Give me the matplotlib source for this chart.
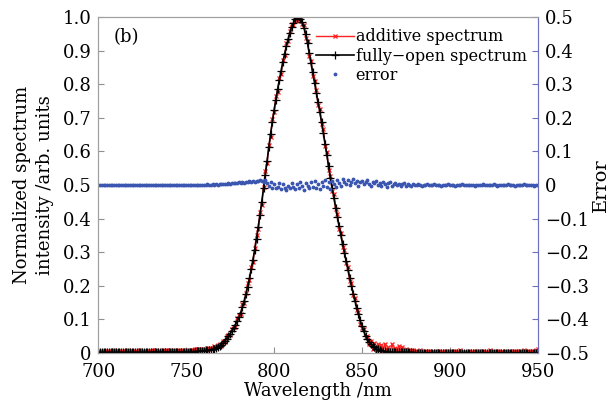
import numpy as np
import matplotlib
matplotlib.use("Agg")
import matplotlib.pyplot as plt
from matplotlib.ticker import FuncFormatter

plt.rcParams['font.family'] = ['DejaVu Serif']

# ---------------- data ----------------
wl = np.arange(700, 951, 1)          # sampling, nm

fully_open = np.array(
    [0.002] * 30 + [0.003] * 20 +
    [0.003, 0.003, 0.004, 0.004, 0.004, 0.005, 0.005, 0.006, 0.006, 0.007,
     0.007, 0.008, 0.008, 0.009, 0.010, 0.011, 0.013, 0.015, 0.018, 0.021,
     0.025, 0.030, 0.036, 0.043, 0.050, 0.058, 0.066, 0.075, 0.084, 0.095,
     0.106, 0.120, 0.136, 0.155, 0.175, 0.198, 0.222, 0.249, 0.278, 0.308,
     0.340, 0.375, 0.412, 0.450, 0.490, 0.531, 0.572, 0.612, 0.652, 0.688,
     0.722, 0.754, 0.785, 0.813, 0.840, 0.866, 0.890, 0.913, 0.935, 0.953,
     0.970, 0.983, 0.993, 0.998, 1.000, 0.995, 0.985, 0.968, 0.948, 0.922,
     0.893, 0.864, 0.835, 0.805, 0.775, 0.746, 0.718, 0.687, 0.655, 0.623,
     0.590, 0.556, 0.522, 0.491, 0.462, 0.433, 0.405, 0.377, 0.350, 0.324,
     0.298, 0.273, 0.248, 0.224, 0.200, 0.177, 0.155, 0.134, 0.115, 0.097,
     0.080, 0.065, 0.052, 0.042, 0.033, 0.027, 0.021, 0.017, 0.013, 0.011,
     0.009, 0.007, 0.006, 0.005, 0.004, 0.003, 0.003, 0.002, 0.002, 0.002] +
    [0.002] * 10 + [0.001] * 71)

# deviation of the additive spectrum from the fully-open one (x 0.001)
additive_dev_milli = [
    2, 4, 1, 3, 5, 2, 4, 1, 3, 6,
    3, 5, 2, 4, 1, 5, 3, 6, 2, 4,
    5, 2, 4, 3, 6, 1, 4, 5, 2, 3,
    4, 6, 2, 5, 3, 1, 4, 6, 3, 5,
    2, 5, 3, 6, 4, 2, 5, 3, 7, 4,
    3, 6, 2, 5, 4, 7, 3, 5, 6, 4,
    5, 2, 7, 3, 6, 4, 8, 2, 6, 5,
    -3, 6, -2, 8, 4, -4, 7, 3, -5, 9,
    6, -4, 9, -6, 3, 10, -5, 7, -8, 4,
    10, -6, 8, -9, 5, 11, -7, 6, -10, 9,
    -5, 10, -8, 6, -11, 7, -4, 9, -7, 5,
    8, -6, 4, -9, 2, 6, -5, 8, -10, 7,
    -9, 6, -10, 5, 8, -7, 9, -6, 11, -8,
    7, -10, 6, -8, 10, -5, 8, -9, 6, -7,
    9, -6, 7, -10, 8, -5, 10, -7, 6, -9,
    -4, 6, -5, 8, -6, 10, -8, 12, -9, 15,
    3, 18, -2, 22, 5, 14, -1, 25, 8, 12,
    4, 20, 2, 16, -1, 10, 3, 8, 1, 6,
    2, 5, 1, 7, 3, 2, 6, 1, 4, 2,
    3, 1, 5, 2, 4, 1, 3, 6, 2, 1,
    4, 2, 1, 5, 3, 2, 7, 1, 3, 2,
    1, 4, 2, 3, 6, 1, 2, 4, 1, 5,
    2, 3, 1, 8, 2, 4, 1, 3, 5, 2,
    3, 1, 6, 2, 4, 2, 1, 5, 3, 2,
    4, 2, 7, 1, 3, 5, 2, 6, 3, 9,
    11]
additive = fully_open + np.array(additive_dev_milli) * 0.001

error_milli = [
    0, 1, -1, 0, 1, 0, -1, 1, 0, -1,
    1, 0, -1, 0, 1, -1, 0, 1, 0, -1,
    0, 1, 0, -1, 1, 0, -1, 0, 1, 0,
    -1, 0, 1, 0, -1, 1, 0, -1, 0, 1,
    0, -1, 1, 0, 1, -1, 0, 1, 0, -1,
    1, 0, -1, 1, 0, 1, 0, -1, 1, 0,
    1, 0, 2, 1, 0, 2, 1, 3, 1, 2,
    3, 2, 4, 3, 5, 4, 6, 5, 7, 6,
    8, 6, 9, 7, 10, 8, 11, 9, 12, 10,
    13, 11, 15, 12, 10, 14, 6, -3, 8, -8,
    4, -10, -5, 6, -12, 2, -8, -14, -4, -10,
    5, -6, -12, 3, -9, 8, -4, -15, 6, -2,
    -10, 9, -5, 12, -8, 4, -13, 10, -3, 15,
    -6, 8, -11, 13, 2, -5, 16, 6, -2, 18,
    10, 3, 14, -1, 8, 17, 5, 12, -3, 9,
    13, 2, 8, 15, 4, -2, 10, 6, 12, 1,
    7, -3, 9, 4, -6, 5, 10, -2, 3, 6,
    -1, 4, -4, 2, 5, -2, 3, 0, -3, 2,
    1, -1, 2, 0, -2, 1, 0, 2, -1, 1,
    0, 2, -1, 1, 0, -2, 1, 0, -1, 2,
    -1, 0, 1, -2, 0, 1, -1, 2, 0, -1,
    1, 0, -1, 1, -2, 0, 1, -1, 0, 2,
    0, -1, 1, 0, -1, 2, 0, -2, 1, 0,
    -1, 1, 0, 2, -1, 0, 1, -2, 0, 1,
    0, -1, 2, 0, 1, -1, 0, 1, -2, 0,
    1]
error = np.array(error_milli) * 0.001

# ---------------- plot ----------------
fig = plt.figure(figsize=(6.14, 4.04), dpi=100)
ax = fig.add_axes([0.16, 0.126, 0.716, 0.832])
ax2 = ax.twinx()

l1, = ax.plot(wl, additive, color='#ff2020', lw=1.0, marker='x', ms=3.5, mew=0.9,
              zorder=2)
l2, = ax.plot(wl, fully_open, color='black', lw=1.2, marker='+', ms=6,
              mew=0.9, zorder=3)
l3, = ax2.plot(wl, error, ls='none', marker='.', ms=3.5, color='#3a56b0')

ax.set_xlim(700, 950)
ax.set_ylim(0, 1.0)
ax2.set_ylim(-0.5, 0.5)
ax.set_xticks([700, 750, 800, 850, 900, 950])
ax.set_yticks(np.arange(0, 1.01, 0.1))
ax2.set_yticks(np.arange(-0.5, 0.51, 0.1))


def fmt(v, pos):
    if abs(v) < 1e-9:
        return '0'
    return ('%.1f' % v).replace('-', '\u2212')


ax.yaxis.set_major_formatter(FuncFormatter(fmt))
ax2.yaxis.set_major_formatter(FuncFormatter(fmt))

for a in (ax, ax2):
    a.tick_params(direction='in', labelsize=13, length=4, width=0.8)
ax.tick_params(colors='#909090', labelcolor='black')
ax.tick_params(axis='x', pad=7)
ax.tick_params(axis='y', pad=5)
ax2.tick_params(colors='#7070c0', labelcolor='black', pad=5)

for s in ('left', 'bottom', 'top'):
    ax.spines[s].set_color('#a0a0a0')
    ax2.spines[s].set_color('#a0a0a0')
ax2.spines['right'].set_color('#7070c0')
ax.spines['right'].set_color('#7070c0')

ax.set_xlabel('Wavelength /nm', fontsize=13, labelpad=1)
ax.set_ylabel('Normalized spectrum\nintensity /arb. units', fontsize=13,
              linespacing=1.35, labelpad=6)
ax2.set_ylabel('Error', fontsize=14, labelpad=2)

ax.text(709, 0.925, '(b)', fontsize=13)

ax2.legend([l1, l2, l3], ['additive spectrum', 'fully\u2212open spectrum', 'error'],
           loc='upper right', frameon=False, fontsize=11.5, numpoints=1,
           handlelength=2.4, handletextpad=0.1, labelspacing=0.15,
           borderaxespad=0.5, borderpad=0.2)

fig.savefig('out.png', dpi=100)
